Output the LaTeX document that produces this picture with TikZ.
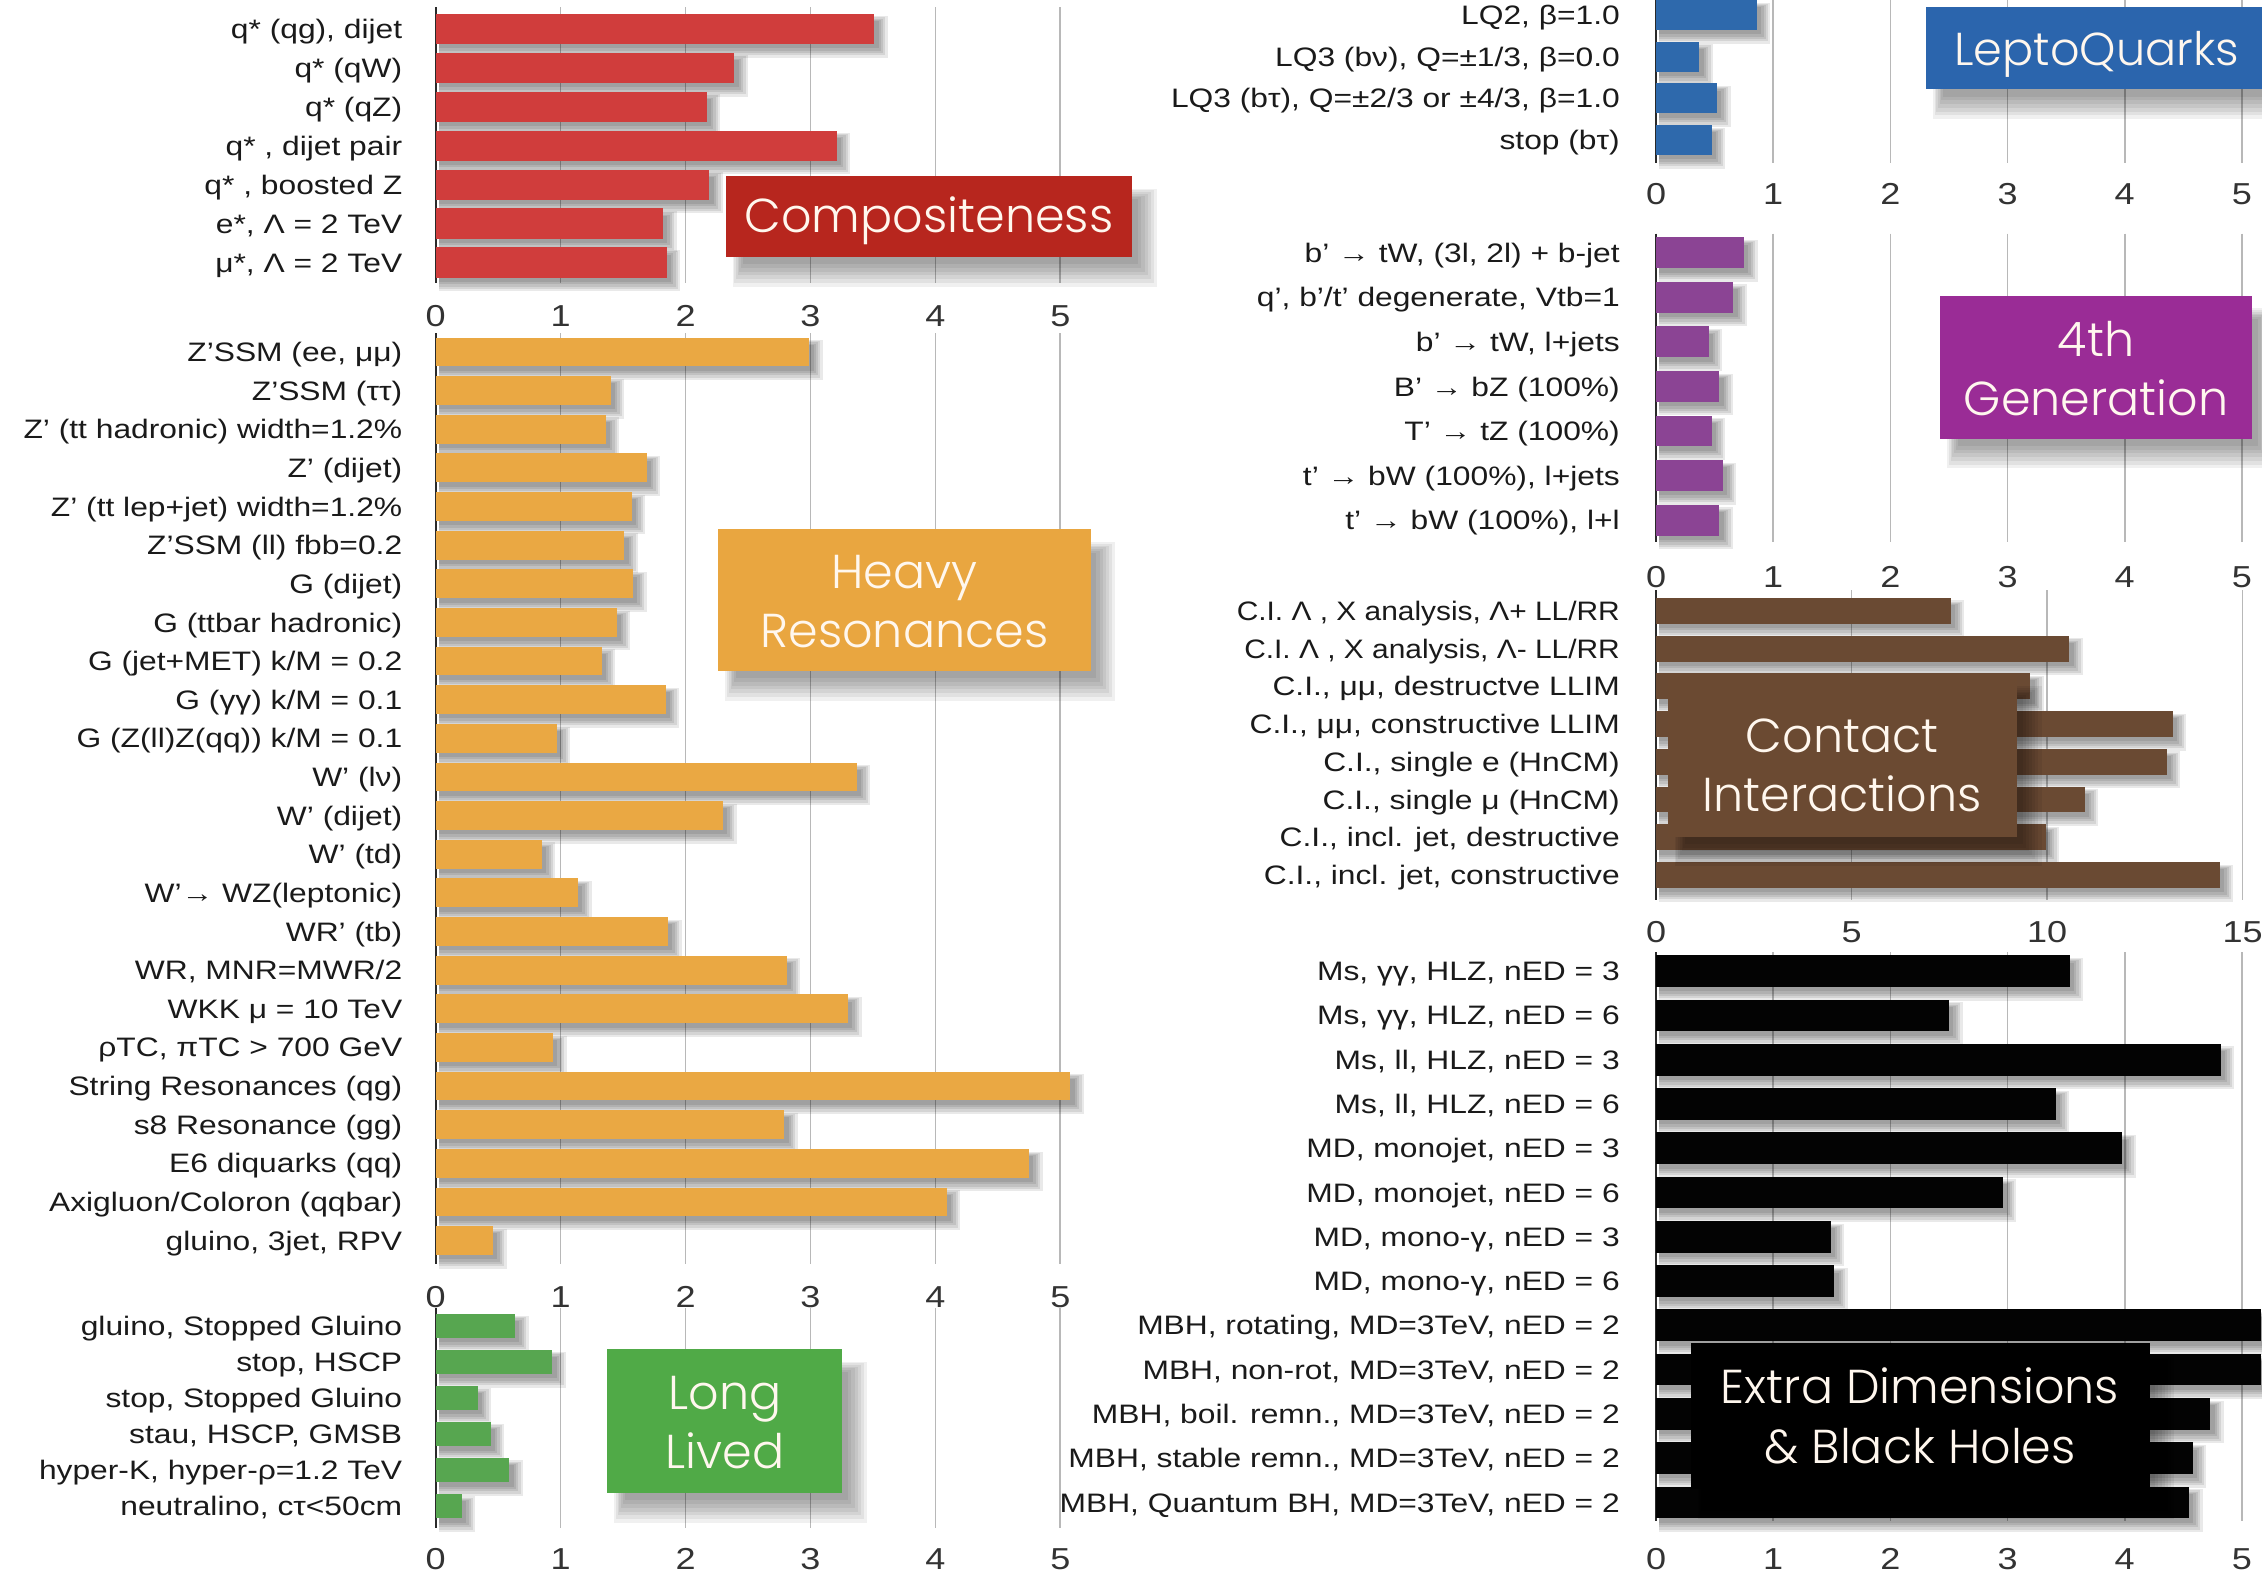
\documentclass[tikz,border=0pt]{standalone}
\usepackage{fontspec}
\setmainfont{Liberation Sans}[FakeStretch=1.19]
\newfontface\narrowlab{Liberation Sans}[FakeStretch=1.12]
\IfFontExistsTF{Poppins Light}{\newfontfamily\boxfont{Poppins Light}}{\newfontfamily\boxfont{Poppins}}
\usetikzlibrary{calc}

\definecolor{compbar}{HTML}{D03D3C}
\definecolor{compbox}{HTML}{B7261E}
\definecolor{heavybar}{HTML}{EAA843}
\definecolor{heavybox}{HTML}{E9A640}
\definecolor{longbar}{HTML}{57A650}
\definecolor{longbox}{HTML}{50AA47}
\definecolor{lqbar}{HTML}{2E69AC}
\definecolor{lqbox}{HTML}{2B65AD}
\definecolor{genbar}{HTML}{8B4494}
\definecolor{genbox}{HTML}{9A2C96}
\definecolor{cibar}{HTML}{6A4A33}
\definecolor{cibox}{HTML}{6B4A32}
\definecolor{edbar}{HTML}{030303}
\definecolor{edbox}{HTML}{000000}
\definecolor{gridc}{HTML}{B8B8B8}
\definecolor{axisc}{HTML}{2A2A2A}
\definecolor{labc}{HTML}{1A1A1A}
\definecolor{tickc}{HTML}{333333}
\definecolor{boxtext}{HTML}{FFF7EE}

\pgfdeclarelayer{gridlayer}
\pgfdeclarelayer{barsh}
\pgfdeclarelayer{boxsh}
\pgfdeclarelayer{boxes}
\pgfsetlayers{gridlayer,barsh,main,boxsh,boxes}

% section settings: axis x, px per unit, half bar height, label right edge, bar colour
\newcommand\setsec[5]{\def\ax{#1}\def\ux{#2}\def\bh{#3}\def\lx{#4}\colorlet{barc}{#5}}

% soft shadow under a bar, falling down and to the right
\newcommand\barshadow[4]{%
  \begin{pgfonlayer}{barsh}
    \foreach \k in {0,...,4}{\fill[black,opacity=0.085] (#1+2,#2+5-\k*0.8) rectangle (#3+3+\k*1.6,#4+3+\k*1.6);}
  \end{pgfonlayer}}

% one row: name, centre y, value, label
\newcommand\R[4]{%
  \pgfmathsetmacro\xe{\ax+\ux*#3}%
  \barshadow{\ax}{#2-\bh}{\xe}{#2+\bh}%
  \fill[barc] (\ax,#2-\bh) rectangle (\xe,#2+\bh);
  \node[lab] (#1) at (\lx,#2+6.6) {#4};}

% category box with its shadow: name, x1, y1, x2, y2, colour, text, text shift
\newcommand\catbox[8]{%
  \begin{pgfonlayer}{boxsh}
    \foreach \k in {0,...,6}{\fill[black,opacity=0.06] (#2+12-\k*1.2,#3+16-\k*1.2) rectangle (#4+4+\k*2.2,#5+5+\k*2.6);}
  \end{pgfonlayer}
  \begin{pgfonlayer}{boxes}
    \fill[#6] (#2,#3) rectangle (#4,#5);
    \node[cattext] (#1) at ({(#2+#4)/2},{(#3+#5)/2+#8}) {#7};
  \end{pgfonlayer}}

% axis tick labels: name prefix, x0, step, baseline y, labels
\newcommand\ticks[5]{%
  \foreach \tv [count=\ti from 0] in {#5}{\node[tick] (#1\ti) at (#2+#3*\ti,#4) {\tv};}}

% vertical grid of one section: axis x, list of grid x, top y, bottom y
\newcommand\secgrid[4]{%
  \begin{pgfonlayer}{gridlayer}
    \foreach \gx in {#2}{\draw[gridl] (\gx,#3) -- (\gx,#4);}
    \draw[axisl] (#1,#3) -- (#1,#4);
  \end{pgfonlayer}}

\begin{document}
\begin{tikzpicture}[x=1pt,y=-1pt,
  lab/.style={anchor=base east,inner sep=0pt,text=labc,font=\fontsize{18.5}{21}\selectfont},
  tick/.style={anchor=base,inner sep=0pt,text=tickc,font=\fontsize{21}{24}\selectfont},
  gridl/.style={draw=gridc,line width=1.2pt},
  axisl/.style={draw=axisc,line width=1.5pt},
  cattext/.style={inner sep=0pt,text=boxtext,align=center,font=\boxfont\fontsize{33}{41}\selectfont}]

\begin{pgfonlayer}{gridlayer}
  \fill[white] (0,0) rectangle (1568,1090);
\end{pgfonlayer}
\useasboundingbox (0,0) rectangle (1568,1090);

% ---------------- left column ----------------
\secgrid{302}{388.6,475.2,561.8,648.4,735}{5}{196}
\secgrid{302}{388.6,475.2,561.8,648.4,735}{231}{876}
\secgrid{302}{388.6,475.2,561.8,648.4,735}{907}{1059}
\ticks{ta}{302}{86.6}{226.5}{0,1,2,3,4,5}
\ticks{tb}{302}{86.6}{906}{0,1,2,3,4,5}
\ticks{tc}{302}{86.6}{1088}{0,1,2,3,4,5}

% Compositeness
\setsec{302}{86.6}{10.5}{279}{compbar}
\R{c1}{20}{3.51}{q* (qg), dijet}
\R{c2}{47}{2.39}{q* (qW)}
\R{c3}{74}{2.17}{q* (qZ)\hspace{5pt}}
\R{c4}{101}{3.21}{q* , dijet pair}
\R{c5}{128}{2.19}{q* , boosted Z}
\R{c6}{155}{1.82}{e*, Λ = 2 TeV}
\R{c7}{182}{1.85}{μ*, Λ = 2 TeV}
\catbox{compositeness}{503}{122}{785}{178}{compbox}{Compositeness}{3}

% Heavy Resonances
\setsec{302}{86.6}{10}{279}{heavybar}
\R{h1}{244}{2.99}{Z’SSM (ee, μμ)}
\R{h2}{270.8}{1.40}{Z’SSM (ττ)}
\R{h3}{297.6}{1.36}{Z’ (tt hadronic) width=1.2\%}
\R{h4}{324.3}{1.69}{Z’ (dijet)}
\R{h5}{351.1}{1.57}{Z’ (tt lep+jet) width=1.2\%}
\R{h6}{377.9}{1.51}{Z’SSM (ll) fbb=0.2}
\R{h7}{404.7}{1.58}{G (dijet)}
\R{h8}{431.5}{1.45}{G (ttbar hadronic)}
\R{h9}{458.2}{1.33}{G (jet+MET) k/M = 0.2}
\R{h10}{485}{1.84}{G (γγ) k/M = 0.1}
\R{h11}{511.8}{0.97}{G (Z(ll)Z(qq)) k/M = 0.1}
\R{h12}{538.6}{3.37}{W’ (lν)}
\R{h13}{565.4}{2.30}{W’ (dijet)}
\R{h14}{592.1}{0.85}{W’ (td)}
\R{h15}{618.9}{1.14}{W’→ WZ(leptonic)}
\R{h16}{645.7}{1.86}{WR’ (tb)}
\R{h17}{672.5}{2.81}{WR, MNR=MWR/2}
\R{h18}{699.3}{3.30}{WKK μ = 10 TeV}
\R{h19}{726}{0.94}{ρTC, πTC > 700 GeV}
\R{h20}{752.8}{5.08}{String Resonances (qg)}
\R{h21}{779.6}{2.79}{s8 Resonance (gg)}
\R{h22}{806.4}{4.75}{E6 diquarks (qq)}
\R{h23}{833.2}{4.09}{Axigluon/Coloron (qqbar)}
\R{h24}{860}{0.46}{gluino, 3jet, RPV}
\catbox{heavy}{498}{367}{756}{465}{heavybox}{Heavy\\Resonances}{1}

% Long Lived
\setsec{302}{86.6}{8.5}{279}{longbar}
\R{l1}{919}{0.635}{gluino, Stopped Gluino}
\R{l2}{944}{0.935}{stop, HSCP}
\R{l3}{969}{0.335}{stop, Stopped Gluino}
\R{l4}{994}{0.44}{stau, HSCP, GMSB}
\R{l5}{1019}{0.59}{hyper-K, hyper-ρ=1.2 TeV}
\R{l6}{1044}{0.21}{neutralino, cτ<50cm}
\catbox{longlived}{421}{935}{584}{1035}{longbox}{Long\\Lived}{1}

% ---------------- right column ----------------
\secgrid{1148}{1229.2,1310.4,1391.6,1472.8,1554}{0}{113}
\secgrid{1148}{1229.2,1310.4,1391.6,1472.8,1554}{162}{376}
\secgrid{1148}{1283.5,1419,1554.5}{409}{624}
\secgrid{1148}{1229.2,1310.4,1391.6,1472.8,1554}{660}{1054}
\ticks{td}{1148}{81.2}{142}{0,1,2,3,4,5}
\ticks{te}{1148}{81.2}{407}{0,1,2,3,4,5}
\ticks{tf}{1148}{135.5}{653}{0,5,10,15}
\ticks{tg}{1148}{81.2}{1088}{0,1,2,3,4,5}

% LeptoQuarks
\setsec{1148}{81.2}{10.4}{1123}{lqbar}
\R{q1}{10.4}{0.86}{LQ2, β=1.0}
\R{q2}{39.3}{0.37}{LQ3 (bν), Q=±1/3, β=0.0}
\R{q3}{68.2}{0.52}{LQ3 (bτ), Q=±2/3 or ±4/3, β=1.0}
\R{q4}{97.1}{0.475}{stop (bτ)}
\catbox{leptoquarks}{1335}{5}{1572}{62}{lqbox}{\fontsize{32}{38}\selectfont LeptoQuarks}{4}

% 4th Generation
\setsec{1148}{81.2}{10.7}{1123}{genbar}
\R{g1}{175.2}{0.75}{b’ → tW, (3l, 2l) + b-jet}
\R{g2}{206.1}{0.66}{q’, b’/t’ degenerate, Vtb=1}
\R{g3}{237}{0.45}{b’ → tW, l+jets}
\R{g4}{267.9}{0.54}{B’ → bZ (100\%)}
\R{g5}{298.8}{0.475}{T’ → tZ (100\%)}
\R{g6}{329.7}{0.57}{t’ → bW (100\%), l+jets}
\R{g7}{360.6}{0.54}{t’ → bW (100\%), l+l}
\catbox{fourthgen}{1345}{205}{1561}{304}{genbox}{4th\\Generation}{1}

% Contact Interactions
\setsec{1148}{27.1}{9}{1123}{cibar}
\R{i1}{423.4}{7.54}{\narrowlab C.I. Λ , X analysis, Λ+ LL/RR}
\R{i2}{449.6}{10.57}{\narrowlab C.I. Λ , X analysis, Λ- LL/RR}
\R{i3}{475.7}{9.57}{C.I., μμ, destructve LLIM}
\R{i4}{501.9}{13.21}{C.I., μμ, constructive LLIM}
\R{i5}{528.1}{13.06}{C.I., single e (HnCM)}
\R{i6}{554.2}{10.96}{C.I., single μ (HnCM)}
\R{i7}{580.4}{9.96}{C.I., incl. jet, destructive}
\R{i8}{606.6}{14.42}{C.I., incl. jet, constructive}
\catbox{contact}{1156}{467}{1398}{580}{cibox}{Contact\\Interactions}{7}

% Extra Dimensions & Black Holes
\setsec{1148}{81.2}{11}{1123}{edbar}
\R{e1}{673.2}{3.53}{Ms, γγ, HLZ, nED = 3}
\R{e2}{703.9}{2.50}{Ms, γγ, HLZ, nED = 6}
\R{e3}{734.6}{4.82}{Ms, ll, HLZ, nED = 3}
\R{e4}{765.3}{3.41}{Ms, ll, HLZ, nED = 6}
\R{e5}{796}{3.98}{MD, monojet, nED = 3}
\R{e6}{826.7}{2.96}{MD, monojet, nED = 6}
\R{e7}{857.4}{1.49}{MD, mono-γ, nED = 3}
\R{e8}{888.1}{1.52}{MD, mono-γ, nED = 6}
\R{e9}{918.7}{5.16}{MBH, rotating, MD=3TeV, nED = 2}
\R{e10}{949.4}{5.16}{MBH, non-rot, MD=3TeV, nED = 2}
\R{e11}{980.1}{4.73}{MBH, boil. remn., MD=3TeV, nED = 2}
\R{e12}{1010.8}{4.58}{MBH, stable remn., MD=3TeV, nED = 2}
\R{e13}{1041.5}{4.55}{MBH, Quantum BH, MD=3TeV, nED = 2}
\catbox{extradim}{1172}{931}{1490}{1032}{edbox}{Extra Dimensions\\\&~Black Holes}{0}

\end{tikzpicture}
\end{document}
